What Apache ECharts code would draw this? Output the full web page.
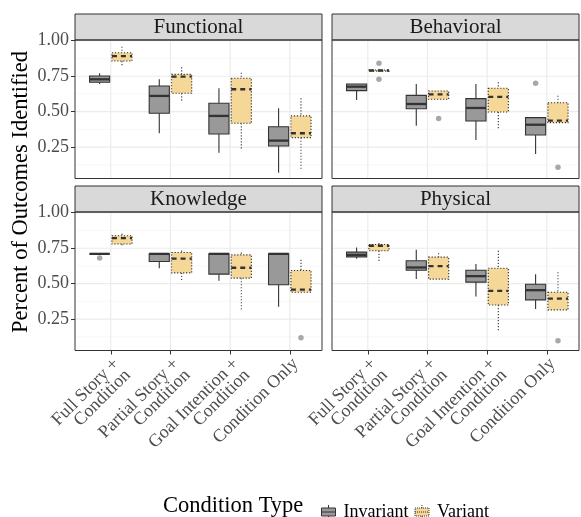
<!DOCTYPE html>
<html><head><meta charset="utf-8">
<script src="https://cdn.jsdelivr.net/npm/echarts@6/dist/echarts.min.js"></script>
<style>html,body{margin:0;padding:0;background:#fff}#c{width:581px;height:517px}</style>
</head><body><div id="c"></div>
<script>
// ---------- data ----------
const categories = ['Full Story +\nCondition', 'Partial Story +\nCondition', 'Goal Intention +\nCondition', 'Condition Only'];
const facets = ['Functional', 'Behavioral', 'Knowledge', 'Physical'];
const conditionTypes = ['Invariant', 'Variant'];
const yTickValues = [0.25, 0.5, 0.75, 1.0];
const yMinorGrid = [0.125, 0.375, 0.625, 0.875];
const xTickValues = [0, 1, 2, 3];

// each row: [lower whisker, Q1, median, Q3, upper whisker], one per category
const functionalInvariant = [[0.695,0.707,0.728,0.751,0.770],[0.348,0.489,0.611,0.681,0.728],[0.211,0.343,0.470,0.559,0.665],[0.070,0.258,0.296,0.394,0.524]];
const functionalVariant   = [[0.822,0.857,0.892,0.915,0.958],[0.578,0.630,0.747,0.763,0.813],[0.230,0.418,0.658,0.735,0.775],[0.094,0.317,0.348,0.470,0.594]];
const behavioralInvariant = [[0.582,0.648,0.676,0.695,0.695],[0.401,0.521,0.554,0.615,0.695],[0.301,0.434,0.526,0.592,0.695],[0.202,0.336,0.408,0.458,0.458]];
const behavioralVariant   = [[0.786,0.786,0.790,0.794,0.794],[0.587,0.587,0.622,0.646,0.646],[0.376,0.498,0.604,0.665,0.707],[0.423,0.423,0.437,0.563,0.613]];
const knowledgeInvariant  = [[0.710,0.710,0.710,0.710,0.710],[0.609,0.656,0.710,0.710,0.710],[0.520,0.567,0.710,0.710,0.710],[0.338,0.492,0.710,0.710,0.710]];
const knowledgeVariant    = [[0.765,0.779,0.821,0.838,0.852],[0.522,0.576,0.677,0.720,0.734],[0.320,0.539,0.612,0.703,0.720],[0.440,0.440,0.458,0.593,0.668]];
const physicalInvariant   = [[0.675,0.689,0.703,0.722,0.755],[0.532,0.595,0.614,0.661,0.739],[0.409,0.511,0.553,0.595,0.638],[0.322,0.386,0.454,0.496,0.567]];
const physicalVariant     = [[0.656,0.732,0.767,0.776,0.786],[0.532,0.532,0.623,0.687,0.715],[0.162,0.350,0.449,0.609,0.732],[0.315,0.315,0.395,0.440,0.581]];

// outliers: [category index, value]
const functionalInvariantOut = [];
const functionalVariantOut   = [];
const behavioralInvariantOut = [[3,0.700]];
const behavioralVariantOut   = [[0,0.841],[0,0.728],[1,0.451],[3,0.108]];
const knowledgeInvariantOut  = [[0,0.680]];
const knowledgeVariantOut    = [[3,0.119]];
const physicalInvariantOut   = [];
const physicalVariantOut     = [[3,0.098]];

const boxData = [
  [functionalInvariant, functionalVariant],
  [behavioralInvariant, behavioralVariant],
  [knowledgeInvariant, knowledgeVariant],
  [physicalInvariant, physicalVariant]
];
const outData = [
  [functionalInvariantOut, functionalVariantOut],
  [behavioralInvariantOut, behavioralVariantOut],
  [knowledgeInvariantOut, knowledgeVariantOut],
  [physicalInvariantOut, physicalVariantOut]
];

// ---------- style / layout ----------
const FONT = 'Liberation Serif';
const FILLS = ['#999999', '#F5D797'];
const STROKE = '#333333';
const DODGE = 0.1875, BOX_W = 0.3375;
const panels = [
  {left: 75,  top: 40,  width: 247, height: 138.5},
  {left: 332, top: 40,  width: 247, height: 138.5},
  {left: 75,  top: 212, width: 247, height: 138.5},
  {left: 332, top: 212, width: 247, height: 138.5}
];
const STRIP_H = 26;

function renderGrid(params, api) {
  const cs = params.coordSys;
  const kind = api.value(0), v = api.value(1);
  if (kind === 2) {
    const x = api.coord([v, 0.5])[0];
    return {type: 'line', shape: {x1: x, y1: cs.y, x2: x, y2: cs.y + cs.height}, style: {stroke: '#EBEBEB', lineWidth: 1.1}};
  }
  const y = api.coord([0, v])[1];
  return {type: 'line', shape: {x1: cs.x, y1: y, x2: cs.x + cs.width, y2: y},
    style: {stroke: kind === 0 ? '#EBEBEB' : '#F4F4F4', lineWidth: kind === 0 ? 1.1 : 0.6}};
}

function makeBoxRender(t) {
  const offset = t === 0 ? -DODGE : DODGE;
  const variant = t === 1;
  const dash = variant ? [1.2, 1.8] : null;
  return function (params, api) {
    const c = api.value(0);
    const lo = api.value(1), q1 = api.value(2), med = api.value(3), q3 = api.value(4), hi = api.value(5);
    const xc = api.coord([c + offset, med])[0];
    const hw = api.size([BOX_W, 0])[0] / 2;
    const yLo = api.coord([c, lo])[1], yQ1 = api.coord([c, q1])[1], yMed = api.coord([c, med])[1];
    const yQ3 = api.coord([c, q3])[1], yHi = api.coord([c, hi])[1];
    const children = [];
    if (yQ3 - yHi > 0.5) children.push({type: 'line', shape: {x1: xc, y1: yHi, x2: xc, y2: yQ3}, style: {stroke: STROKE, lineWidth: 1.1, lineDash: dash}});
    if (yLo - yQ1 > 0.5) children.push({type: 'line', shape: {x1: xc, y1: yQ1, x2: xc, y2: yLo}, style: {stroke: STROKE, lineWidth: 1.1, lineDash: dash}});
    children.push({type: 'rect', shape: {x: xc - hw, y: yQ3, width: 2 * hw, height: Math.max(yQ1 - yQ3, 0)},
      style: {fill: FILLS[t], stroke: STROKE, lineWidth: 1.1, lineDash: dash}});
    children.push({type: 'line', shape: {x1: xc - hw, y1: yMed, x2: xc + hw, y2: yMed},
      style: {stroke: STROKE, lineWidth: 2.3, lineDash: variant ? [5, 4] : null}});
    return {type: 'group', children: children};
  };
}

const gridRows = []
  .concat(yTickValues.map(v => [0, v]))
  .concat(yMinorGrid.map(v => [1, v]))
  .concat(xTickValues.map(v => [2, v]));

const grids = [], xAxes = [], yAxes = [], series = [], graphics = [];
panels.forEach((p, f) => {
  const bottomRow = f >= 2, leftCol = f % 2 === 0;
  grids.push({left: p.left, top: p.top, width: p.width, height: p.height, show: true, backgroundColor: '#fff', borderWidth: 0});
  xAxes.push({
    type: 'value', gridIndex: f, min: -0.6, max: 3.54, position: 'bottom',
    axisLine: {show: false, onZero: false}, splitLine: {show: false},
    axisTick: {show: bottomRow, customValues: xTickValues, length: 4, lineStyle: {color: STROKE, width: 1}},
    axisLabel: {show: bottomRow, customValues: xTickValues, formatter: v => categories[Math.round(v)],
      rotate: 45, align: 'right', verticalAlign: 'top', margin: 5, fontSize: 18, lineHeight: 16,
      fontFamily: FONT, color: '#4D4D4D'}
  });
  yAxes.push({
    type: 'value', gridIndex: f, min: 0.029, max: 1.005, position: 'left',
    axisLine: {show: false, onZero: false}, splitLine: {show: false},
    axisTick: {show: leftCol, customValues: yTickValues, length: 4, lineStyle: {color: STROKE, width: 1}},
    axisLabel: {show: leftCol, customValues: yTickValues, formatter: v => v.toFixed(2), margin: 6,
      fontSize: 18, fontFamily: FONT, color: '#4D4D4D'}
  });
  series.push({type: 'custom', xAxisIndex: f, yAxisIndex: f, silent: true, z: 1,
    renderItem: renderGrid, data: gridRows, clip: true});
  [0, 1].forEach(t => {
    series.push({
      type: 'custom', name: conditionTypes[t], xAxisIndex: f, yAxisIndex: f, z: 3,
      itemStyle: {color: FILLS[t], borderColor: STROKE},
      renderItem: makeBoxRender(t), encode: {x: 0, y: [1, 2, 3, 4, 5]},
      data: boxData[f][t].map((d, i) => [i].concat(d))
    });
    series.push({
      type: 'scatter', xAxisIndex: f, yAxisIndex: f, z: 4, symbolSize: 5.5, silent: true,
      itemStyle: {color: '#A8A8A8', opacity: 1},
      data: outData[f][t].map(o => [o[0] + (t === 0 ? -DODGE : DODGE), o[1]])
    });
  });
  // strip
  graphics.push({type: 'rect', z: 50, shape: {x: p.left, y: p.top - STRIP_H, width: p.width, height: STRIP_H},
    style: {fill: '#D9D9D9', stroke: STROKE, lineWidth: 1}});
  graphics.push({type: 'text', z: 51, x: p.left + p.width / 2, y: p.top - STRIP_H / 2 + 0.5,
    style: {text: facets[f], align: 'center', verticalAlign: 'middle', font: '21px ' + FONT, fill: '#1A1A1A'}});
  // panel border
  graphics.push({type: 'rect', z: 50, shape: {x: p.left, y: p.top, width: p.width, height: p.height},
    style: {fill: 'none', stroke: STROKE, lineWidth: 1}});
});

graphics.push({type: 'text', z: 51, x: 21, y: 192, rotation: Math.PI / 2,
  style: {text: 'Percent of Outcomes Identified', align: 'center', verticalAlign: 'middle', font: '22.5px ' + FONT, fill: '#000'}});
graphics.push({type: 'text', z: 51, x: 163, y: 506,
  style: {text: 'Condition Type', align: 'left', verticalAlign: 'middle', font: '22.5px ' + FONT, fill: '#000'}});

const iconPath = 'path://M8,0L8,3M1,3L15,3L15,11L1,11ZM1,7L15,7M8,11L8,14';
const option = {
  animation: false,
  backgroundColor: '#fff',
  grid: grids, xAxis: xAxes, yAxis: yAxes, series: series,
  graphic: graphics,
  legend: {
    left: 316, top: 498, itemWidth: 16, itemHeight: 14, itemGap: 6, selectedMode: false,
    textStyle: {fontFamily: FONT, fontSize: 18, color: '#000', padding: [0, 0, 0, 2]},
    data: [
      {name: 'Invariant', icon: iconPath, itemStyle: {color: FILLS[0], borderColor: STROKE, borderWidth: 1}},
      {name: 'Variant', icon: iconPath, itemStyle: {color: FILLS[1], borderColor: STROKE, borderWidth: 1, borderType: 'dotted'}}
    ]
  }
};
const chart = echarts.init(document.getElementById('c'), null, {renderer: 'canvas'});
chart.setOption(option);
</script></body></html>
